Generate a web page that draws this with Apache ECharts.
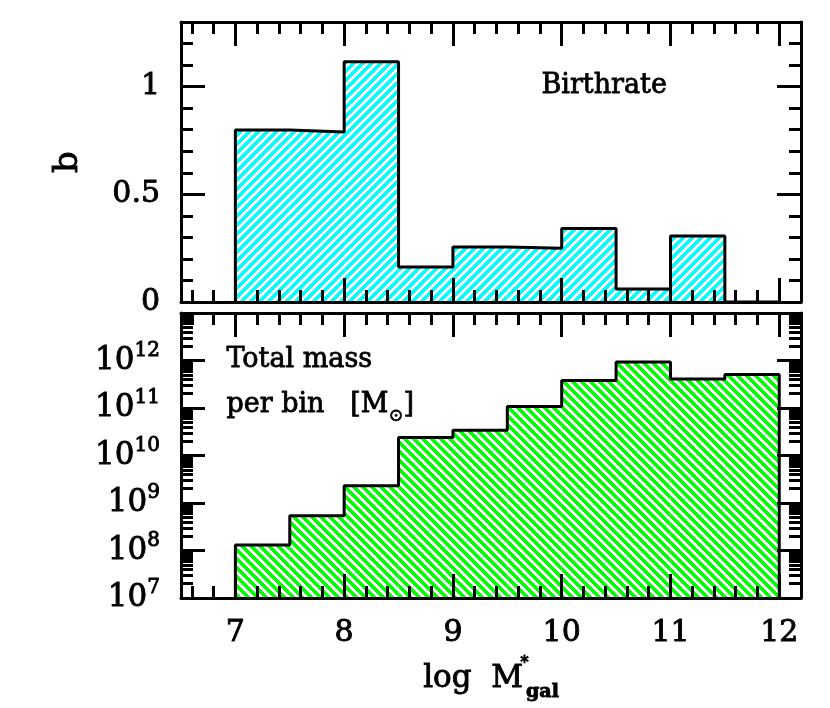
<!DOCTYPE html>
<html>
<head>
<meta charset="utf-8">
<script src="https://cdn.jsdelivr.net/npm/echarts@6/dist/echarts.min.js"></script>
<style>
  html, body { margin: 0; padding: 0; background: #fff; }
  #chart { width: 830px; height: 708px; }
</style>
</head>
<body>
<div id="chart"></div>
<script>
// bins of log M*gal (left edges, width 0.5)
const binStart = [7, 7.5, 8, 8.5, 9, 9.5, 10, 10.5, 11, 11.5];
const binWidth = 0.5;
// top panel: birthrate b
const birthrate = [0.798, 0.789, 1.116, 0.162, 0.255, 0.25, 0.341, 0.06, 0.306, 0];
// bottom panel: total mass per bin [Msun]
const totalMass = [1.3e8, 5.4e8, 2.3e9, 2.4e10, 3.4e10, 1.08e11, 3.8e11, 9.3e11, 4.1e11, 5.1e11];

// tick positions
const xMajor = [7, 8, 9, 10, 11, 12];
const bMajor = [0, 0.5, 1];
const massMajor = [1e7, 1e8, 1e9, 1e10, 1e11, 1e12, 1e13];
const massLabels = [1e7, 1e8, 1e9, 1e10, 1e11, 1e12];

const xMinor = [];
for (let v = 66; v < 122; v += 2) if (v % 10) xMinor.push(v / 10);
const bMinor = [];
for (let v = 1; v < 13; v++) if (v % 5) bMinor.push(v / 10);
const massMinor = [];
for (let e = 7; e < 13; e++) for (let k = 2; k < 10; k++) massMinor.push(k * Math.pow(10, e));

const FONT = "DejaVu Serif";
// thicken the thin serif a little
const INK = { color: "#000", textBorderColor: "#000", textBorderWidth: 0.9 };

// striped fill
function hatch(color, dir) {
  const p = 9;
  const c = document.createElement("canvas");
  c.width = c.height = p;
  const ctx = c.getContext("2d");
  ctx.fillStyle = "#fff";
  ctx.fillRect(0, 0, p, p);
  ctx.fillStyle = color;
  for (let y = 0; y < p; y++) {
    for (let x = 0; x < p; x++) {
      const k = dir > 0 ? (x + y) % p : (((x - y) % p) + p) % p;
      if (k < 5) ctx.fillRect(x, y, 1, 1);
    }
  }
  return { image: c, repeat: "repeat" };
}

const cyanFill = hatch("#00ffff", 1);
const greenFill = hatch("#00ff00", -1);

function binData(vals) {
  return binStart.map((x, i) => [x, x + binWidth, vals[i]]);
}
function outline(vals, base) {
  const pts = [[binStart[0], base]];
  binStart.forEach((x, i) => pts.push([x, vals[i]]));
  const last = binStart[binStart.length - 1] + binWidth;
  pts.push([last, vals[vals.length - 1]]);
  pts.push([last, base]);
  return pts;
}

const tick = (vals, len) => ({ show: true, inside: true, length: len, customValues: vals, lineStyle: { color: "#000", width: 3 } });
const frame = { show: true, onZero: false, lineStyle: { color: "#000", width: 3 } };

function xAxes(grid, labels) {
  const base = {
    type: "value", gridIndex: grid, min: 6.5, max: 12.2, z: 10,
    splitLine: { show: false },
    axisLine: { show: false, onZero: false }
  };
  const a = Object.assign({}, base, {
    position: "bottom", axisLine: frame, axisTick: tick(xMajor, 24),
    axisLabel: labels
      ? Object.assign({ show: true, customValues: xMajor, fontFamily: FONT, fontSize: 30, margin: 20 }, INK)
      : { show: false }
  });
  if (labels) {
    a.name = "{t|log  M}{sup|*}{sub|gal}";
    a.nameLocation = "middle";
    a.nameGap = 58;
    a.nameTextStyle = {
      rich: {
        t: Object.assign({ fontFamily: FONT, fontSize: 31, lineHeight: 46 }, INK),
        sup: Object.assign({ fontFamily: FONT, fontSize: 16, verticalAlign: "top", width: 3 }, INK),
        sub: Object.assign({ fontFamily: FONT, fontSize: 19, fontWeight: "bold", verticalAlign: "bottom" }, INK)
      }
    };
  }
  return [
    a,
    Object.assign({}, base, { position: "bottom", axisTick: tick(xMinor, 12), axisLabel: { show: false } }),
    Object.assign({}, base, { position: "top", axisLine: frame, axisTick: tick(xMajor, 24), axisLabel: { show: false } }),
    Object.assign({}, base, { position: "top", axisTick: tick(xMinor, 12), axisLabel: { show: false } })
  ];
}

function yAxes(grid, type, min, max, major, minor, labelVals, formatter, name) {
  const base = {
    type: type, gridIndex: grid, min: min, max: max, z: 10,
    splitLine: { show: false },
    axisLine: { show: false, onZero: false }
  };
  const a = Object.assign({}, base, {
    position: "left", axisLine: frame, axisTick: tick(major, 24),
    axisLabel: Object.assign({
      show: true, customValues: labelVals, formatter: formatter, margin: 21,
      fontFamily: FONT, fontSize: 30,
      rich: {
        b: Object.assign({ fontFamily: FONT, fontSize: 31 }, INK),
        s: Object.assign({ fontFamily: FONT, fontSize: 20, verticalAlign: "top", lineHeight: 40 }, INK)
      }
    }, INK)
  });
  if (name) {
    a.name = name;
    a.nameLocation = "middle";
    a.nameGap = 96;
    a.nameTextStyle = Object.assign({ fontFamily: FONT, fontSize: 34 }, INK);
  }
  return [
    a,
    Object.assign({}, base, { position: "left", axisTick: tick(minor, 12), axisLabel: { show: false } }),
    Object.assign({}, base, { position: "right", axisLine: frame, axisTick: tick(major, 24), axisLabel: { show: false } }),
    Object.assign({}, base, { position: "right", axisTick: tick(minor, 12), axisLabel: { show: false } })
  ];
}

function barSeries(xi, yi, vals, fill, base) {
  return {
    type: "custom",
    xAxisIndex: xi, yAxisIndex: yi,
    clip: true,
    z: 2,
    encode: { x: [0, 1], y: 2 },
    data: binData(vals),
    renderItem: (params, api) => {
      const p0 = api.coord([api.value(0), api.value(2)]);
      const p1 = api.coord([api.value(1), base]);
      return {
        type: "rect",
        shape: { x: p0[0], y: p0[1], width: p1[0] - p0[0], height: p1[1] - p0[1] },
        style: { fill: fill }
      };
    }
  };
}

function outlineSeries(xi, yi, vals, base) {
  return {
    type: "line", step: "end", xAxisIndex: xi, yAxisIndex: yi,
    symbol: "none", z: 5, silent: true,
    lineStyle: { color: "#000", width: 3 },
    data: outline(vals, base)
  };
}

const chart = echarts.init(document.getElementById("chart"), null, { renderer: "canvas" });

const textStyle = { font: "27px 'DejaVu Serif'", fill: "#000", stroke: "#000", lineWidth: 0.8 };

const option = {
  backgroundColor: "#fff",
  animation: false,
  grid: [
    { left: 181, top: 22, width: 620, height: 280 },
    { left: 181, top: 313, width: 620, height: 285 }
  ],
  xAxis: [].concat(xAxes(0, false), xAxes(1, true)),
  yAxis: [].concat(
    yAxes(0, "value", 0, 1.3, bMajor, bMinor, bMajor, null, "b"),
    yAxes(1, "log", 1e7, 1e13, massMajor, massMinor, massLabels,
      v => "{b|10}{s|" + Math.round(Math.log10(v)) + "}", null)
  ),
  graphic: [
    {
      type: "text", left: 541, top: 72, z: 20,
      style: Object.assign({ text: "Birthrate" }, textStyle)
    },
    {
      type: "text", left: 226, top: 346, z: 20,
      style: Object.assign({ text: "Total mass" }, textStyle)
    },
    {
      type: "text", left: 226, top: 391, z: 20,
      style: Object.assign({
        text: "per bin   [M{s|⊙}]",
        rich: { s: { fontFamily: FONT, fontSize: 18, fill: "#000", stroke: "#000", lineWidth: 0.6, verticalAlign: "bottom", lineHeight: 40 } }
      }, textStyle)
    }
  ],
  series: [
    barSeries(0, 0, birthrate, cyanFill, 0),
    outlineSeries(0, 0, birthrate, 0),
    barSeries(4, 4, totalMass, greenFill, 1e7),
    outlineSeries(4, 4, totalMass, 1e7)
  ]
};

chart.setOption(option);
</script>
</body>
</html>
